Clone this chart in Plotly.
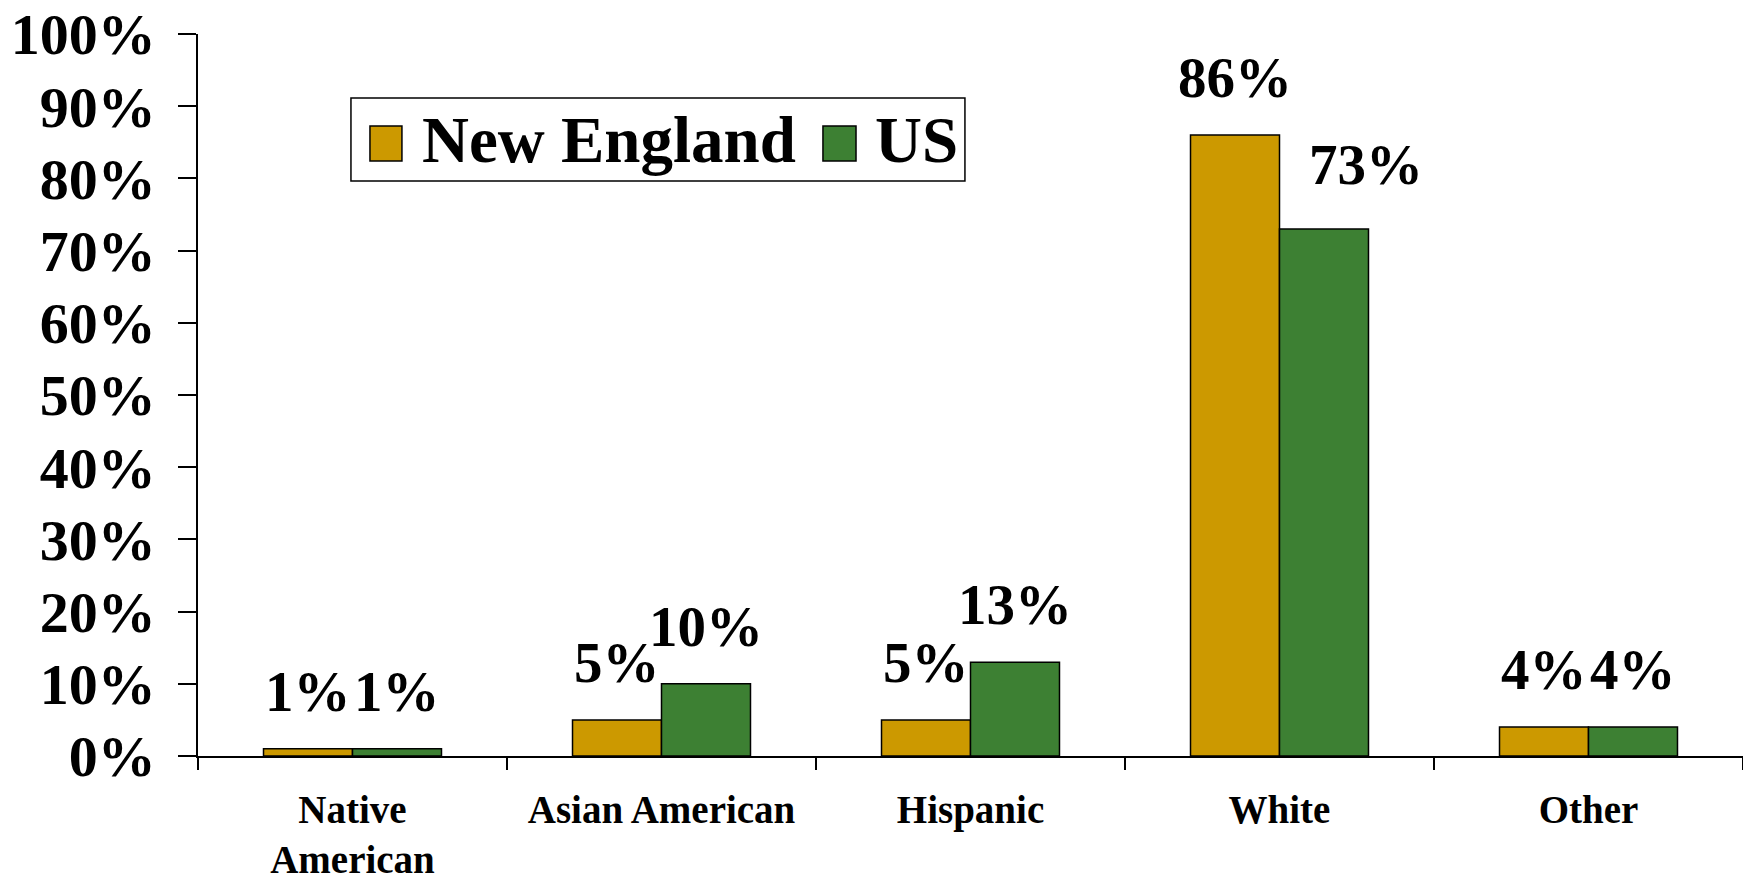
import plotly.graph_objects as go

categories = ["Native<br>American", "Asian American", "Hispanic", "White", "Other"]
new_england = [1, 5, 5, 86, 4]
us = [1, 10, 13, 73, 4]
y_ticks = [0, 10, 20, 30, 40, 50, 60, 70, 80, 90, 100]
series_names = ["New England", "US"]

GOLD = "#CC9900"
GREEN = "#3D8033"
FONT = "Liberation Serif"

fig = go.Figure()
fig.add_trace(go.Bar(x=categories, y=new_england, name=series_names[0],
                     marker=dict(color=GOLD, line=dict(color="black", width=1.5)),
                     showlegend=False))
fig.add_trace(go.Bar(x=categories, y=us, name=series_names[1],
                     marker=dict(color=GREEN, line=dict(color="black", width=1.5)),
                     showlegend=False))

bar_half = (1 - 0.424) / 4
# label nudges (px) for individual labels: (series, index) -> (xshift, yshift)
nudges = {(1, 3): (42, 7)}
annotations = []
for s, vals in enumerate([new_england, us]):
    for i, v in enumerate(vals):
        dx, dy = nudges.get((s, i), (0, 0))
        annotations.append(dict(
            x=i + (-bar_half if s == 0 else bar_half), y=v, xref="x", yref="y",
            text=f"<b>{v}%</b>", showarrow=False, yanchor="bottom", xanchor="center",
            xshift=dx, yshift=24 + dy,
            font=dict(family=FONT, size=57, color="black")))

# manual legend
legend_font = dict(family=FONT, size=65, color="black")
annotations.append(dict(x=0.1437, y=0.853, xref="paper", yref="paper", text="<b>New England</b>",
                        showarrow=False, xanchor="left", yanchor="middle", font=legend_font))
annotations.append(dict(x=0.4369, y=0.853, xref="paper", yref="paper", text="<b>US</b>",
                        showarrow=False, xanchor="left", yanchor="middle", font=legend_font))
shapes = [
    dict(type="rect", xref="paper", yref="paper", x0=0.0990, x1=0.4964, y0=0.7964, y1=0.9114,
         line=dict(color="black", width=1.5), fillcolor="white", layer="below"),
    dict(type="rect", xref="paper", yref="paper", x0=0.1113, x1=0.1320, y0=0.8241, y1=0.8726,
         line=dict(color="black", width=1.5), fillcolor=GOLD),
    dict(type="rect", xref="paper", yref="paper", x0=0.4045, x1=0.4259, y0=0.8241, y1=0.8726,
         line=dict(color="black", width=1.5), fillcolor=GREEN),
]

fig.update_layout(
    width=1743, height=881,
    margin=dict(l=198, r=0, t=34, b=125, autoexpand=False),
    barmode="group", bargap=0.424, bargroupgap=0,
    plot_bgcolor="white", paper_bgcolor="white",
    font=dict(family=FONT, color="black"),
    annotations=annotations, shapes=shapes,
)
fig.update_xaxes(
    tickvals=categories, ticktext=[f"<b>{c}</b>" for c in categories],
    showline=True, linecolor="black", linewidth=1.5,
    ticks="outside", ticklen=12, tickwidth=1.5, tickcolor="black",
    tickson="boundaries", showgrid=False, automargin=False,
    tickfont=dict(family=FONT, size=39, color="black"),
    ticklabelstandoff=18,
)
fig.update_yaxes(
    range=[0, 100], tickvals=y_ticks, ticktext=[f"<b>{t}%</b>" for t in y_ticks],
    showline=True, linecolor="black", linewidth=1.5,
    ticks="outside", ticklen=18, tickwidth=1.5, tickcolor="black",
    showgrid=False, zeroline=False, automargin=False,
    tickfont=dict(family=FONT, size=58, color="black"),
    ticklabelstandoff=11,
)
fig.update_traces(cliponaxis=False)

fig.write_html("out.html", config={"displayModeBar": False},
               post_script="document.body.style.margin='0';document.body.style.overflow='hidden';")
